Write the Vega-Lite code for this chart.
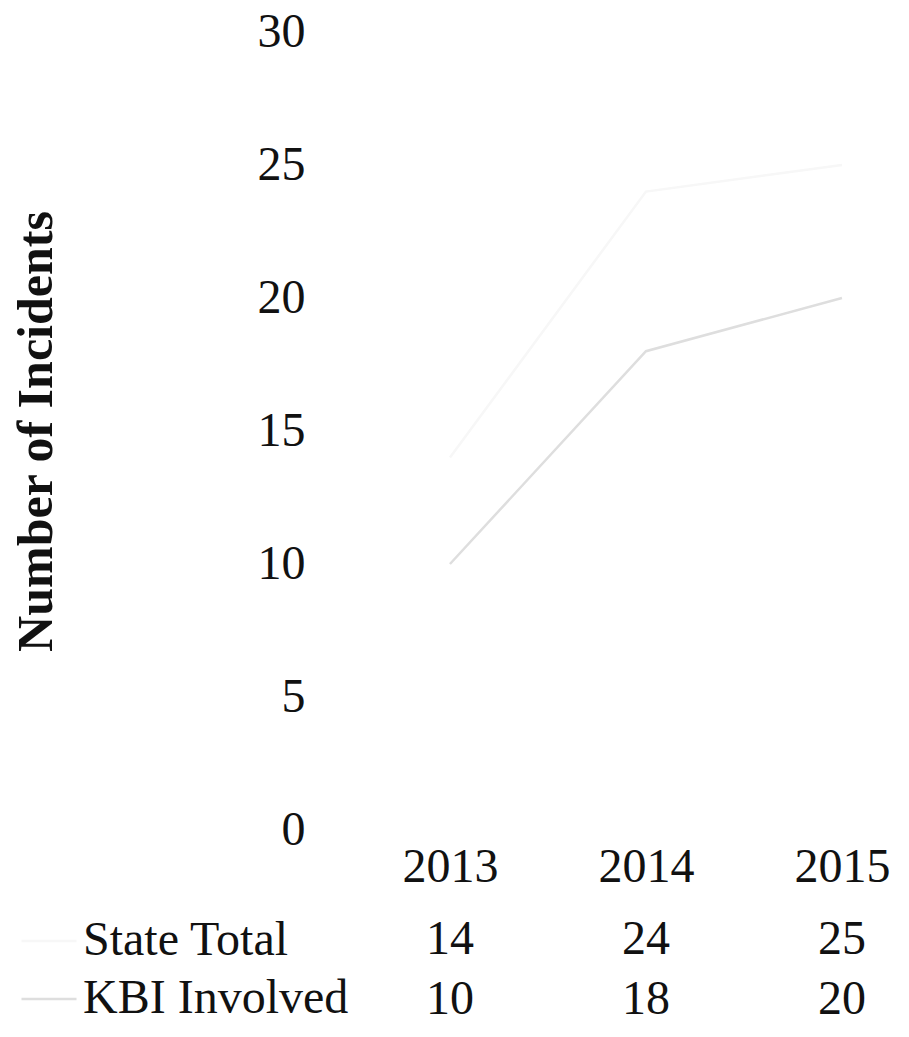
{
  "$schema": "https://vega.github.io/schema/vega-lite/v6.json",
  "padding": {"left": 0, "top": 8, "right": 0, "bottom": 0},
  "background": "white",
  "bounds": "flush",
  "spacing": 104,
  "config": {
    "view": {"stroke": null},
    "font": "Liberation Serif",
    "legend": {
      "orient": "none",
      "legendX": -330,
      "legendY": 860,
      "title": null,
      "symbolType": "stroke",
      "symbolSize": 3025,
      "symbolStrokeWidth": 2.5,
      "labelFont": "Liberation Serif",
      "labelFontSize": 48,
      "labelColor": "#111111",
      "labelOffset": 5,
      "rowPadding": 5,
      "padding": 20,
      "labelLimit": 400
    }
  },
  "datasets": {
    "incidents": [
      {"year": 2013, "series": "State Total", "value": 14},
      {"year": 2014, "series": "State Total", "value": 24},
      {"year": 2015, "series": "State Total", "value": 25},
      {"year": 2013, "series": "KBI Involved", "value": 10},
      {"year": 2014, "series": "KBI Involved", "value": 18},
      {"year": 2015, "series": "KBI Involved", "value": 20}
    ]
  },
  "vconcat": [
    {
      "width": 579,
      "height": 798,
      "data": {"name": "incidents"},
      "mark": {"type": "line", "strokeWidth": 2.5},
      "encoding": {
        "x": {
          "field": "year",
          "type": "quantitative",
          "scale": {"domain": [2012.388, 2015.342], "nice": false, "zero": false},
          "axis": {
            "values": [2013, 2014, 2015],
            "format": "d",
            "title": null,
            "grid": false,
            "domain": false,
            "ticks": false,
            "labelFont": "Liberation Serif",
            "labelFontSize": 48,
            "labelColor": "#111111",
            "labelPadding": 13
          }
        },
        "y": {
          "field": "value",
          "type": "quantitative",
          "scale": {"domain": [0, 30], "nice": false},
          "axis": {
            "values": [0, 5, 10, 15, 20, 25, 30],
            "title": "Number of Incidents",
            "titleFont": "Liberation Serif",
            "titleFontSize": 50,
            "titleFontWeight": "bold",
            "titleColor": "#111111",
            "titlePadding": 196,
            "grid": false,
            "domain": false,
            "ticks": false,
            "labelFont": "Liberation Serif",
            "labelFontSize": 48,
            "labelColor": "#111111",
            "labelPadding": 25
          }
        },
        "color": {
          "field": "series",
          "type": "nominal",
          "scale": {"domain": ["State Total", "KBI Involved"], "range": ["#f7f7f7", "#dedede"]}
        }
      }
    },
    {
      "width": 579,
      "height": 72,
      "data": {"name": "incidents"},
      "mark": {"type": "text", "fontSize": 48, "font": "Liberation Serif", "color": "#111111", "baseline": "middle", "align": "center"},
      "encoding": {
        "x": {
          "field": "year",
          "type": "quantitative",
          "scale": {"domain": [2012.388, 2015.342], "nice": false, "zero": false},
          "axis": null
        },
        "y": {
          "field": "series",
          "type": "nominal",
          "scale": {"domain": ["State Total", "KBI Involved"], "padding": 0.1},
          "axis": null
        },
        "text": {"field": "value", "type": "quantitative"}
      }
    }
  ]
}
